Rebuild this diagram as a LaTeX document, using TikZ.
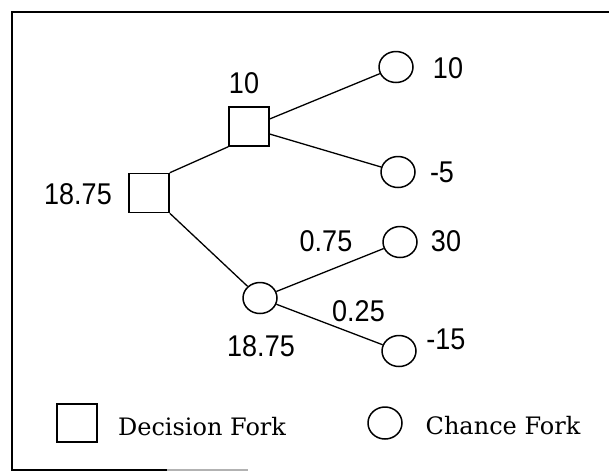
\documentclass[tikz,border=0pt]{standalone}
\usepackage{fontspec}
\usetikzlibrary{shapes.geometric}
\newfontfamily\numfont[FakeStretch=0.9]{Liberation Sans}
\newfontfamily\legendfont{DejaVu Serif}
\tikzset{
  decision/.style={draw, line width=1.5pt, minimum width=40pt, minimum height=39pt, inner sep=0pt},
  chance/.style={draw, ellipse, line width=1.5pt, minimum width=34pt, minimum height=31pt, inner sep=0pt},
  num/.style={font=\numfont\fontsize{30}{30}\selectfont, inner sep=0pt},
  legendtext/.style={font=\legendfont\fontsize{24}{24}\selectfont, inner sep=0pt},
  branch/.style={line width=1.3pt},
  frame/.style={line width=2pt}
}
\begin{document}
\begin{tikzpicture}[x=1pt, y=-1pt]
  \useasboundingbox (0,0) rectangle (609,472);
  % outer frame (scanned: right side cut off)
  \draw[frame] (609,11.5) -- (12,11.5) -- (12,470) -- (167,470);
  \draw[frame, gray!60] (167,470) -- (248,470);

  % tree nodes
  \node[decision] (R) at (149,193) {};
  \node[decision] (D) at (249,126.5) {};
  \node[chance] (C1) at (396,67) {};
  \node[chance] (C2) at (398,172) {};
  \node[chance] (K) at (260,298) {};
  \node[chance] (C3) at (400,242) {};
  \node[chance] (C4) at (399,351) {};

  % branches
  \draw[branch] (R.north east) -- (D.south west);
  \draw[branch] (R.south east) -- (K);
  \draw[branch] (D.20) -- (C1);
  \draw[branch] (D.-20) -- (C2);
  \draw[branch] (K) -- (C3);
  \draw[branch] (K) -- (C4);

  % values and probabilities
  \node[num] (vR) at (78,194) {18.75};
  \node[num] (vD) at (244,83.5) {10};
  \node[num] (v1) at (448,68) {10};
  \node[num] (v2) at (442,172) {-5};
  \node[num] (v3) at (446,241) {30};
  \node[num] (v4) at (446,339) {-15};
  \node[num] (vK) at (261,346.5) {18.75};
  \node[num] (p1) at (326,241) {0.75};
  \node[num] (p2) at (358.5,311) {0.25};

  % legend
  \node[decision, minimum height=38pt] (LD) at (77,423) {};
  \node[legendtext] (LDt) at (202,427) {Decision Fork};
  \node[chance, minimum height=32pt] (LC) at (385,423) {};
  \node[legendtext] (LCt) at (503,426) {Chance Fork};
\end{tikzpicture}
\end{document}
